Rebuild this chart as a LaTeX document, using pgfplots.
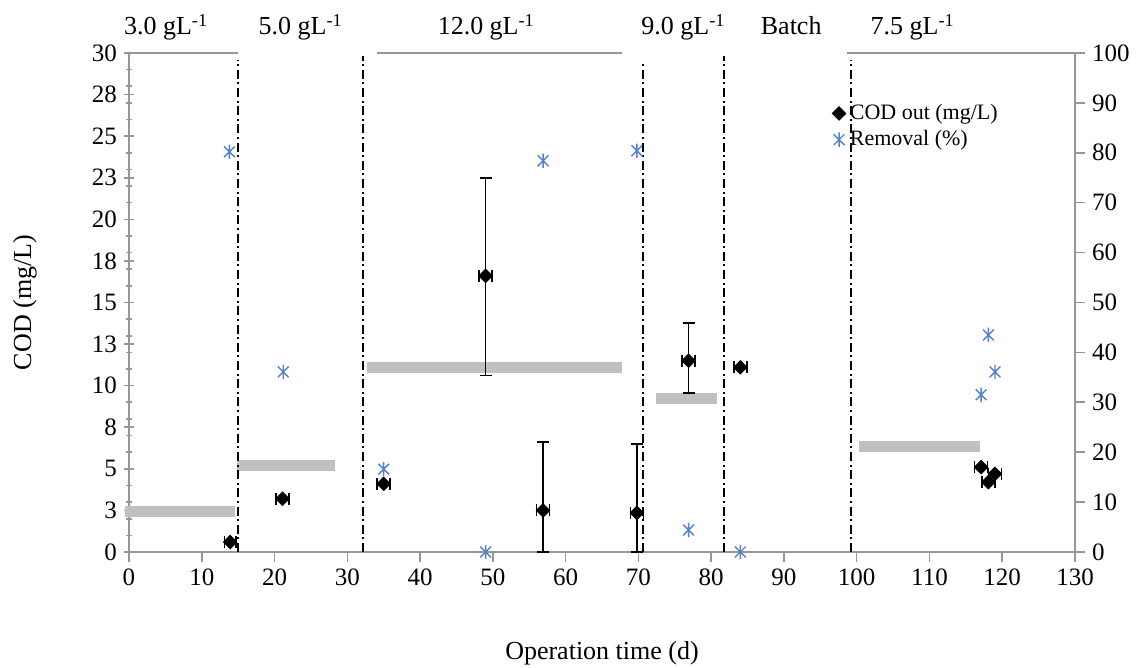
\documentclass[border=0pt]{standalone}
\usepackage{pgfplots}
\pgfplotsset{compat=1.18}
\usepackage{fontspec}
\setmainfont{Liberation Serif}

\definecolor{axgray}{RGB}{150,150,150}
\definecolor{feedgray}{RGB}{192,192,192}
\definecolor{remblue}{RGB}{84,128,205}

% Excel-like star: vertical bar plus a cross
\pgfdeclareplotmark{xlstar}{%
  \pgfpathmoveto{\pgfqpoint{0pt}{\pgfplotmarksize}}%
  \pgfpathlineto{\pgfqpoint{0pt}{-\pgfplotmarksize}}%
  \pgfpathmoveto{\pgfqpoint{-0.75\pgfplotmarksize}{0.75\pgfplotmarksize}}%
  \pgfpathlineto{\pgfqpoint{0.75\pgfplotmarksize}{-0.75\pgfplotmarksize}}%
  \pgfpathmoveto{\pgfqpoint{-0.75\pgfplotmarksize}{-0.75\pgfplotmarksize}}%
  \pgfpathlineto{\pgfqpoint{0.75\pgfplotmarksize}{0.75\pgfplotmarksize}}%
  \pgfusepathqstroke}

\pgfplotsset{
  every axis/.append style={
    scale only axis, width=473pt, height=249.5pt,
    xmin=0, xmax=130,
    clip=false,
    /pgf/number format/assume math mode=true,
    tick label style={font=\fontsize{12.5}{14}\selectfont},
    axis line style={axgray, line width=0.9pt},
    every tick/.style={axgray, line width=0.8pt},
    major tick length=5pt, minor tick length=3pt,
  },
  codmark/.style={mark=square*, mark size=2.4pt, mark options={rotate=45, fill=black, draw=black}},
}

\begin{document}
\begin{tikzpicture}
\begin{axis}[
  axis x line*=bottom, axis y line*=left,
  ymin=0, ymax=30,
  xtick={0,10,...,130},
  ytick={0,2.5,...,30},
  yticklabels={0,3,5,8,10,13,15,18,20,23,25,28,30},
  minor ytick={1,2,3,4,6,7,8,9,11,12,13,14,16,17,18,19,21,22,23,24,26,27,28,29},
  xtick align=outside, ytick align=center,
  unbounded coords=jump,
  xlabel={Operation time (d)},
  ylabel={COD (mg/L)},
  every axis x label/.style={at={(axis description cs:0.5,-0.2164)}, anchor=base,
    font=\fontsize{13}{15}\selectfont},
  every axis y label/.style={at={(axis description cs:-0.11,0.5)}, rotate=90, anchor=center,
    font=\fontsize{13}{15}\selectfont},
]
% feed concentration bars
\addplot[feedgray, line width=5.5pt, forget plot] coordinates {
  (-0.5,2.45) (14.6,2.45) (nan,nan)
  (14.9,5.2) (28.3,5.2) (nan,nan)
  (32.7,11.1) (67.8,11.1) (nan,nan)
  (72.4,9.2) (80.8,9.2) (nan,nan)
  (100.3,6.35) (117,6.35)
};
% top border pieces
\addplot[axgray, line width=0.8pt, forget plot] coordinates {
  (-0.5,30) (15.0,30) (nan,nan)
  (34.1,30) (67.8,30) (nan,nan)
  (98.7,30) (130,30)
};
% phase separators
\addplot[black, line width=1pt, dash pattern=on 4.5pt off 1.8pt on 1pt off 1.8pt, forget plot] coordinates {
  (15.0,0) (15.0,29.6) (nan,nan)
  (32.2,0) (32.2,29.8) (nan,nan)
  (70.7,0) (70.7,29.4) (nan,nan)
  (81.7,0) (81.7,29.8) (nan,nan)
  (99.2,0) (99.2,29.6)
};
% COD out
\addplot[only marks, codmark, black,
  error bars/.cd, x dir=both, x explicit, y dir=both, y explicit,
  error bar style={black, line width=0.8pt},
  error mark options={black, mark size=3pt, line width=0.8pt, rotate=90}]
  table[x=x, y=y, x error=ex, y error plus=eyp, y error minus=eym] {
x     y     ex   eyp   eym
13.9  0.6   0.8  0     0
21.1  3.2   0.9  0     0
35.0  4.1   0.9  0     0
49.0  16.6  0.9  5.9   6.0
56.9  2.5   0.9  4.1   2.5
69.8  2.35  0.9  4.15  2.35
76.9  11.5  0.9  2.25  1.95
84.0  11.1  0.9  0     0
117.1 5.1   0.9  0     0
118.1 4.2   0.9  0     0
119.0 4.7   0.9  0     0
};
\coordinate (bl) at (rel axis cs:0,0);
\coordinate (tr) at (rel axis cs:1,1);
\begin{scope}[font=\fontsize{13}{15}\selectfont]
\node[anchor=base] at (axis cs:5.1,30)   [yshift=9pt] {3.0 gL\textsuperscript{-1}};
\node[anchor=base] at (axis cs:23.6,30)  [yshift=9pt] {5.0 gL\textsuperscript{-1}};
\node[anchor=base] at (axis cs:49.1,30)  [yshift=9pt] {12.0 gL\textsuperscript{-1}};
\node[anchor=base] at (axis cs:76.2,30)  [yshift=9pt] {9.0 gL\textsuperscript{-1}};
\node[anchor=base] at (axis cs:91.0,30)  [yshift=9pt] {Batch};
\node[anchor=base] at (axis cs:107.7,30) [yshift=9pt] {7.5 gL\textsuperscript{-1}};
\end{scope}
\end{axis}

\begin{axis}[
  axis y line*=right, axis x line=none,
  ymin=0, ymax=100, ytick={0,10,...,100},
  ytick align=outside,
  legend cell align=left,
  legend style={draw=none, fill=none, at={(0.743,0.906)}, anchor=north west,
    font=\fontsize{11}{13}\selectfont, inner sep=0pt,
    /tikz/every even column/.append style={column sep=0pt}},
  legend image code/.code={\draw[#1] plot coordinates {(0.1cm,0cm)};},
]
\addlegendimage{only marks, codmark, black}
\addlegendentry{COD out (mg/L)}
\addplot[only marks, mark=xlstar, mark size=3.6pt, remblue, line width=0.7pt] coordinates {
  (13.8,80.2) (21.2,36.1) (35.0,16.6) (49.0,0.0) (56.9,78.4) (69.8,80.4)
  (76.9,4.4) (84.0,0.0) (117.1,31.5) (118.1,43.5) (119.0,36.1)
};
\addlegendentry{Removal (\%)}
\end{axis}
\pgfresetboundingbox
\path ([shift={(-64.5pt,-58pt)}]bl) rectangle ([shift={(33.5pt,26.5pt)}]tr);
\end{tikzpicture}
\end{document}
